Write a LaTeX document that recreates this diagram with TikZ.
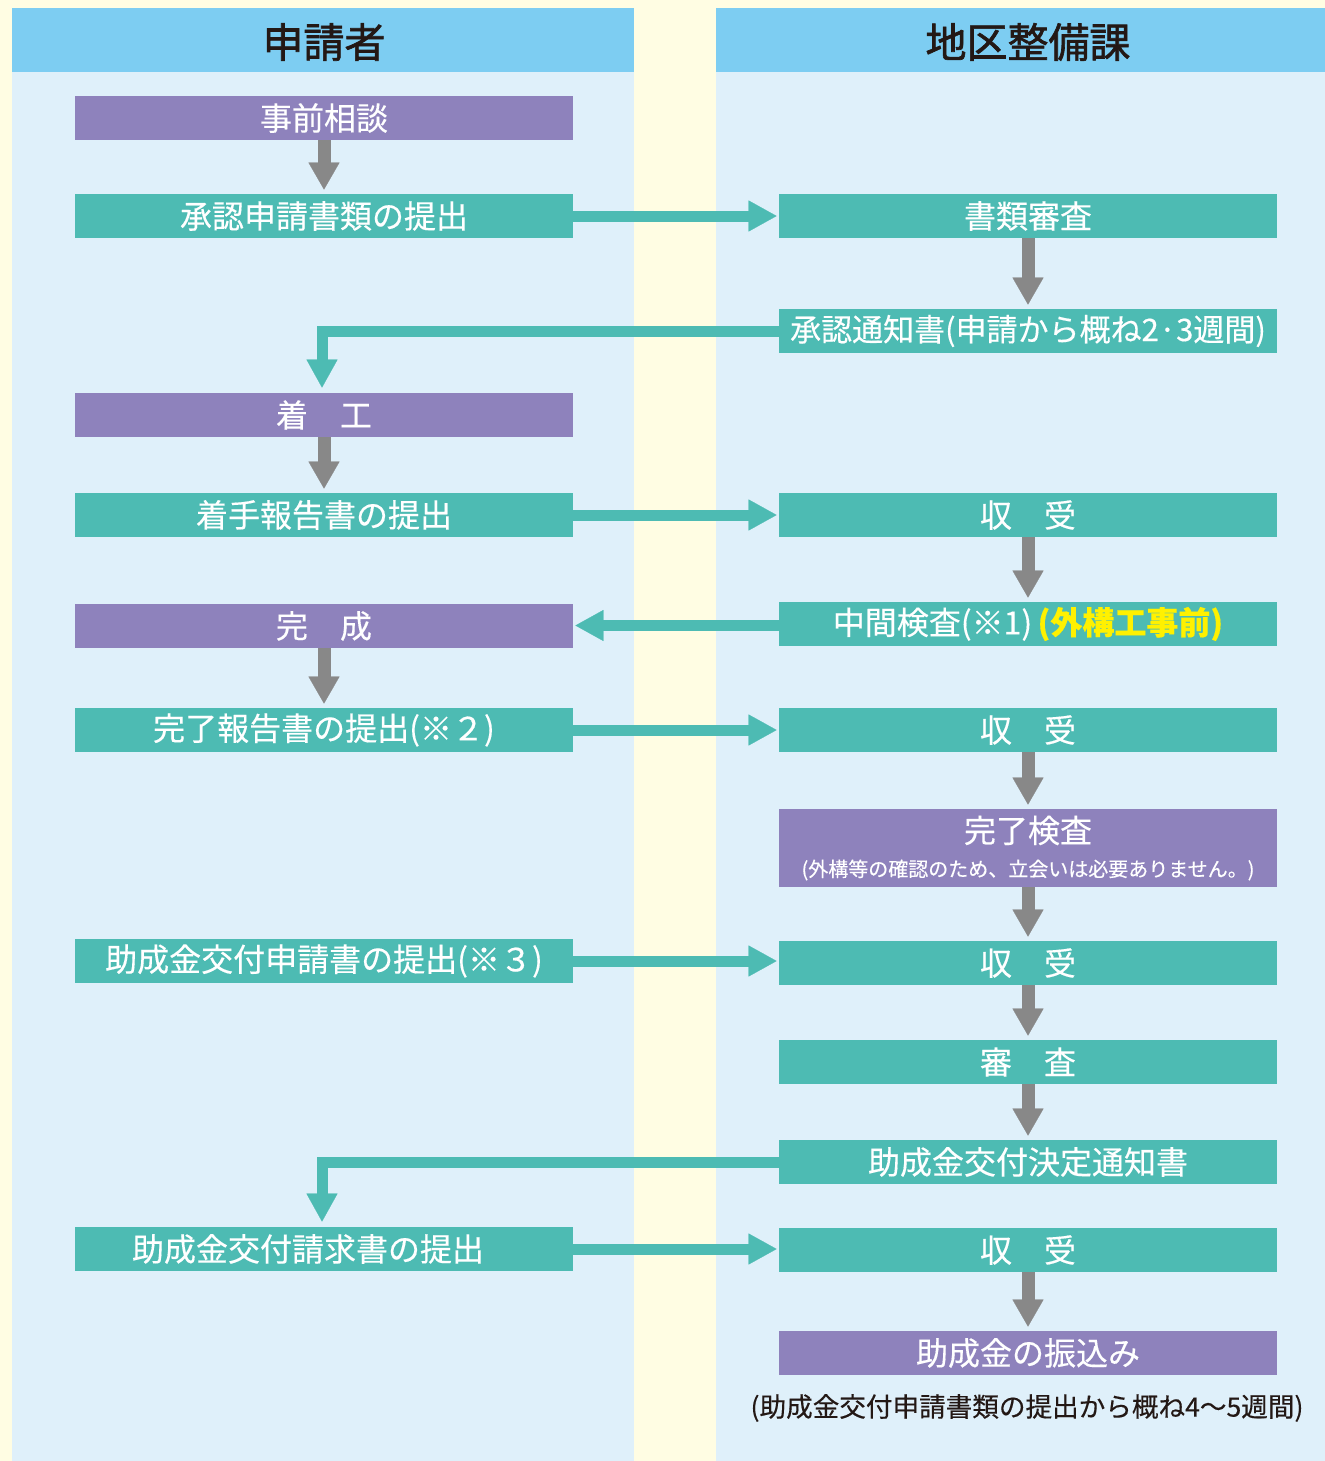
\documentclass[tikz,border=0pt]{standalone}
\usepackage{fontspec}
\setmainfont{Noto Sans CJK JP}
\newfontfamily\medfont{Noto Sans CJK JP}[FakeBold=0.35]
\newfontfamily\hdrfont{Noto Sans CJK JP}[FakeBold=1.6]
\usetikzlibrary{arrows.meta}
\definecolor{bgY}{HTML}{FFFDE3}
\definecolor{colB}{HTML}{DFF0FA}
\definecolor{hdrB}{HTML}{7DCDF2}
\definecolor{tealC}{HTML}{4DBBB3}
\definecolor{purpC}{HTML}{8E82BC}
\definecolor{grayA}{HTML}{888888}
\definecolor{inkC}{HTML}{231815}
\definecolor{yelC}{HTML}{FFF100}
\begin{document}
\begin{tikzpicture}[x=0.5pt,y=-0.5pt,
  box/.style={minimum width=249pt, minimum height=22pt, inner sep=0pt, text=white,
    font=\medfont\fontsize{16pt}{18pt}\selectfont},
  tbox/.style={box, fill=tealC},
  pbox/.style={box, fill=purpC},
  hdr/.style={text=inkC, font=\hdrfont\fontsize{20.5pt}{24pt}\selectfont, inner sep=0pt},
  down/.style={draw=grayA, line width=6.5pt,
    -{Triangle[length=13.5pt,width=15.5pt,line width=0.1pt]}, shorten >=2pt},
  flow/.style={draw=tealC, line width=5.5pt, line join=miter,
    -{Triangle[length=14pt,width=15.5pt,line width=0.1pt]}, shorten >=1pt},
]
\useasboundingbox (0,0) rectangle (1325,1461);
\fill[bgY] (0,0) rectangle (1325,1461);
\fill[colB] (12,8) rectangle (634,1461);
\fill[hdrB] (12,8) rectangle (634,72);
\fill[colB] (716,8) rectangle (1325,1461);
\fill[hdrB] (716,8) rectangle (1325,72);
\node[hdr] (h1) at (324,42) {申請者};
\node[hdr] (h2) at (1028,42) {地区整備課};

\node[pbox] (a1) at (324,118) {事前相談};
\node[tbox] (a2) at (324,216) {承認申請書類の提出};
\node[tbox] (b1) at (1028,216) {書類審査};
\node[tbox, font=\medfont\fontsize{15.5pt}{18pt}\selectfont] (b2) at (1028,331) {承認通知書(申請から概ね2·3週間)};
\node[pbox] (a3) at (324,415) {着　工};
\node[tbox] (a4) at (324,515) {着手報告書の提出};
\node[tbox] (b3) at (1028,515) {収　受};
\node[tbox] (b4) at (1028,624) {中間検査(※1)\,{\bfseries\color{yelC}(外構工事前)}};
\node[pbox] (a5) at (324,626) {完　成};
\node[tbox] (a6) at (324,730) {完了報告書の提出(※２)};
\node[tbox] (b5) at (1028,730) {収　受};
\node[pbox, minimum height=39pt, align=center] (b6) at (1028,848)
  {完了検査\\[-1pt]{\fontsize{10pt}{12pt}\selectfont (外構等の確認のため、立会いは必要ありません。)}};
\node[tbox] (a7) at (324,961) {助成金交付申請書の提出(※３)};
\node[tbox] (b7) at (1028,963) {収　受};
\node[tbox] (b8) at (1028,1062) {審　査};
\node[tbox] (b9) at (1028,1162) {助成金交付決定通知書};
\node[tbox] (a8) at (324,1249) {助成金交付請求書の提出\hspace*{16pt}};
\node[tbox] (b10) at (1028,1250) {収　受};
\node[pbox] (b11) at (1028,1353) {助成金の振込み};
\node[text=inkC, inner sep=0pt, font=\medfont\fontsize{13.3pt}{15pt}\selectfont] (note) at (1027,1408)
  {(助成金交付申請書類の提出から概ね4〜5週間)};

% gray downward arrows
\draw[down] (a1.south) -- (a2.north);
\draw[down] (a3.south) -- (a4.north);
\draw[down] (a5.south) -- (a6.north);
\draw[down] (b1.south) -- (b2.north);
\draw[down] (b3.south) -- (b4.north);
\draw[down] (b5.south) -- (b6.north);
\draw[down] (b6.south) -- (b7.north);
\draw[down] (b7.south) -- (b8.north);
\draw[down] (b8.south) -- (b9.north);
\draw[down] (b10.south) -- (b11.north);

% teal horizontal arrows
\draw[flow] (a2.east) -- (b1.west);
\draw[flow] (a4.east) -- (b3.west);
\draw[flow] (a6.east) -- (b5.west);
\draw[flow] (a7.east) -- (a7.east -| b7.west);
\draw[flow] (a8.east) -- (a8.east -| b10.west);
\draw[flow] ([yshift=-0.75pt]b4.west) -- ([yshift=-0.75pt]b4.west -| a5.east);
\draw[flow, shorten >=2.5pt] (b2.west) -| ([xshift=-1pt]a3.north);
\draw[flow, shorten >=2.5pt] (b9.west) -| ([xshift=-1pt]a8.north);
\end{tikzpicture}
\end{document}
